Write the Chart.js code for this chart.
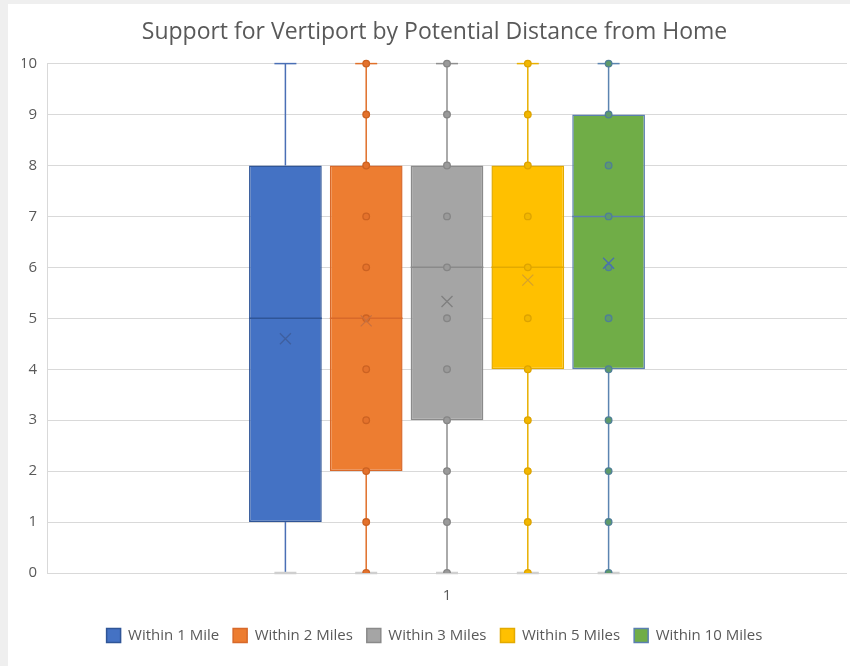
<!DOCTYPE html>
<html>
<head>
<meta charset="utf-8">
<script src="https://cdn.jsdelivr.net/npm/chart.js@4.4.1/dist/chart.umd.min.js"></script>
<style>
  html, body { margin: 0; padding: 0; background: #efefef; }
  #frame {
    position: absolute; left: 8px; top: 4px;
    width: 842px; height: 662px;
    background: #ffffff;
  }
  canvas { display: block; }
</style>
</head>
<body>
<div id="frame"><canvas id="boxChart" width="842" height="662"></canvas></div>
<script>
// groups and per-group summary stats (0-10 support scale)
const categories = ['1'];
const seriesNames = ['Within 1 Mile', 'Within 2 Miles', 'Within 3 Miles', 'Within 5 Miles', 'Within 10 Miles'];
const minValues = [0, 0, 0, 0, 0];
const q1Values = [1, 2, 3, 4, 4];
const medianValues = [5, 5, 6, 6, 7];
const q3Values = [8, 8, 8, 8, 9];
const maxValues = [10, 10, 10, 10, 10];
const meanValues = [4.6, 4.95, 5.33, 5.75, 6.08];
// individual response values drawn along each box (none shown for the first group)
const pointValues = [
    [],
    [0, 1, 2, 3, 4, 5, 6, 7, 8, 9, 10],
    [0, 1, 2, 3, 4, 5, 6, 7, 8, 9, 10],
    [0, 1, 2, 3, 4, 5, 6, 7, 8, 9, 10],
    [0, 1, 2, 3, 4, 5, 6, 7, 8, 9, 10]
];
const yTicks = [0, 1, 2, 3, 4, 5, 6, 7, 8, 9, 10];

const fillColors   = ['#4472C4', '#ED7D31', '#A5A5A5', '#FFC000', '#70AD47'];
const borderColors = ['#2F5597', '#D8692A', '#8A8A8A', '#E3AA00', '#5B7FB0'];
const lineColors   = ['#4A6FB5', '#E0702A', '#8F8F8F', '#E8B000', '#5B84B1'];
const markColors   = ['#3F5F9F', '#C8703F', '#7F7F7F', '#D6A22A', '#4A70B0'];
const dotFill      = ['#4472C4', '#E4722C', '#9A9A9A', '#F2B700', '#5E9A6A'];
const dotStroke    = ['#2F5597', '#CC6222', '#858585', '#DDA300', '#4F7F96'];

const TEXT = '#595959';
const FONT = "'Open Sans', 'Noto Sans', sans-serif";

// whiskers, caps, medians, means and points on top of the floating bars
const boxExtras = {
    id: 'boxExtras',
    afterDatasetsDraw(chart) {
        const ctx = chart.ctx;
        const y = chart.scales.y;
        const area = chart.chartArea;
        chart.data.datasets.forEach((ds, i) => {
            const bar = chart.getDatasetMeta(i).data[0];
            const x = bar.x;
            const half = bar.width / 2;
            const yMin = y.getPixelForValue(minValues[i]);
            const yMax = y.getPixelForValue(maxValues[i]);
            const yQ1 = y.getPixelForValue(q1Values[i]);
            const yQ3 = y.getPixelForValue(q3Values[i]);
            const yMed = y.getPixelForValue(medianValues[i]);
            const yMean = y.getPixelForValue(meanValues[i]);

            ctx.save();
            // whisker stems
            ctx.strokeStyle = lineColors[i];
            ctx.lineWidth = 1.5;
            ctx.beginPath();
            ctx.moveTo(x, yQ3); ctx.lineTo(x, yMax);
            ctx.moveTo(x, yQ1); ctx.lineTo(x, yMin);
            ctx.stroke();
            // caps
            ctx.beginPath();
            ctx.moveTo(x - 11, yMax); ctx.lineTo(x + 11, yMax);
            ctx.stroke();
            ctx.strokeStyle = '#CFCFCF';
            ctx.lineWidth = 2.5;
            ctx.beginPath();
            ctx.moveTo(x - 11, yMin); ctx.lineTo(x + 11, yMin);
            ctx.stroke();
            // median
            ctx.strokeStyle = borderColors[i];
            ctx.lineWidth = 1.5;
            ctx.beginPath();
            ctx.moveTo(x - half, yMed); ctx.lineTo(x + half, yMed);
            ctx.stroke();

            // points, clipped at the axis like the plot area
            ctx.beginPath();
            ctx.rect(area.left, area.top - 10, area.right - area.left, area.bottom - area.top + 10);
            ctx.clip();
            ctx.lineWidth = 1.3;
            pointValues[i].forEach(v => {
                const py = y.getPixelForValue(v);
                ctx.beginPath();
                ctx.arc(x, py, 3.3, 0, Math.PI * 2);
                ctx.fillStyle = dotFill[i];
                ctx.fill();
                ctx.strokeStyle = dotStroke[i];
                ctx.stroke();
            });

            // mean marker
            ctx.strokeStyle = markColors[i];
            ctx.lineWidth = 1.3;
            ctx.beginPath();
            ctx.moveTo(x - 5.5, yMean - 5.5); ctx.lineTo(x + 5.5, yMean + 5.5);
            ctx.moveTo(x + 5.5, yMean - 5.5); ctx.lineTo(x - 5.5, yMean + 5.5);
            ctx.stroke();
            ctx.restore();
        });
    }
};

const datasets = seriesNames.map((name, i) => ({
    label: name,
    data: [[q1Values[i], q3Values[i]]],
    backgroundColor: fillColors[i],
    borderColor: borderColors[i],
    borderWidth: 1.5,
    borderSkipped: false,
    barPercentage: 0.9,
    categoryPercentage: 0.505
}));

new Chart(document.getElementById('boxChart'), {
    type: 'bar',
    data: { labels: categories, datasets: datasets },
    options: {
        responsive: false,
        animation: false,
        events: [],
        layout: { padding: { left: 14, right: 3, top: 0, bottom: 13 } },
        scales: {
            x: {
                afterFit: (scale) => { scale.height = 41; },
                grid: { display: false, drawTicks: false },
                border: { display: false },
                ticks: { color: TEXT, font: { family: FONT, size: 15 }, padding: 14 }
            },
            y: {
                min: 0,
                max: 10,
                afterFit: (scale) => { scale.width = 25; },
                afterBuildTicks: (scale) => { scale.ticks = yTicks.map(v => ({ value: v })); },
                grid: { color: '#D9D9D9', lineWidth: 1, drawTicks: false },
                border: { display: true, color: '#D9D9D9' },
                ticks: { color: TEXT, font: { family: FONT, size: 15 }, padding: 10 }
            }
        },
        plugins: {
            title: {
                display: true,
                text: 'Support for Vertiport by Potential Distance from Home',
                color: TEXT,
                font: { family: FONT, size: 23, weight: 'normal' },
                padding: { top: 15, bottom: 17 }
            },
            legend: {
                position: 'bottom',
                labels: {
                    color: TEXT,
                    font: { family: FONT, size: 15 },
                    boxWidth: 14,
                    boxHeight: 14,
                    padding: 14
                }
            },
            tooltip: { enabled: false }
        }
    },
    plugins: [boxExtras]
});
</script>
</body>
</html>
